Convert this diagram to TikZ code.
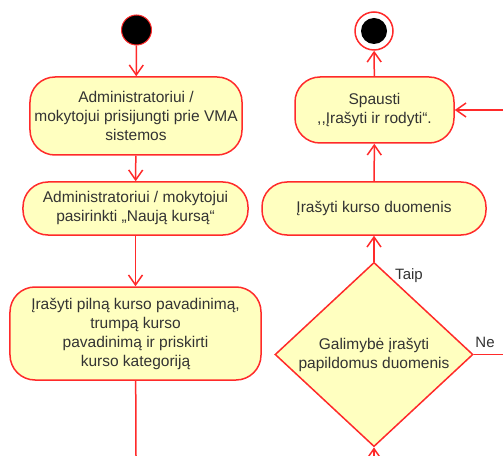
\documentclass[tikz,border=0pt]{standalone}
\usepackage{fontspec}
\setmainfont{Liberation Sans}
\usetikzlibrary{arrows.meta,shapes.geometric}
\definecolor{umlred}{HTML}{FF2A2A}
\definecolor{umlfill}{HTML}{FFFFC0}
\definecolor{umltext}{HTML}{333333}
\begin{document}
\begin{tikzpicture}[x=1bp,y=-1bp,
  every node/.style={font=\fontsize{15.5bp}{19bp}\selectfont, text=umltext},
  action/.style={draw=umlred, fill=umlfill, line width=1.5bp, rounded corners=25bp,
    align=center, inner sep=0pt},
  decision/.style={draw=umlred, fill=umlfill, line width=1.5bp, diamond,
    align=center, inner sep=0pt},
  flow/.style={draw=umlred, line width=1.5bp, -{Straight Barb[length=10bp,width=14bp,line width=1.5bp]}},
  plain/.style={draw=umlred, line width=1.5bp},
  guard/.style={font=\fontsize{15bp}{18bp}\selectfont}]
  \useasboundingbox (0,0) rectangle (503,456);

  % left column: start and first actions
  \node[circle, fill=black, draw=umlred, line width=1bp, minimum size=30bp, inner sep=0pt] (start) at (136.5,30) {};
  \node[action, minimum width=212bp, minimum height=78bp] (login) at (136,116)
    {Administratoriui /\\mokytojui prisijungti prie VMA\\sistemos};
  \node[action, minimum width=225bp, minimum height=53bp] (choose) at (135.5,208.5)
    {Administratoriui / mokytojui\\pasirinkti „Naują kursą“};
  \node[action, minimum width=251bp, minimum height=93bp] (enter) at (135.5,333.5)
    {Įrašyti pilną kurso pavadinimą,\\trumpą kurso\\pavadinimą ir priskirti\\kurso kategoriją};
  \coordinate (leftout) at (136,456);

  % right column: decision, save and finish
  \node[circle, draw=umlred, fill=white, line width=1.5bp, minimum size=38bp, inner sep=0pt] (final) at (374,31) {};
  \node[circle, fill=black, minimum size=26bp, inner sep=0pt] (finaldot) at (374,31) {};
  \node[action, minimum width=159bp, minimum height=66bp] (press) at (374.5,110)
    {Spausti\\,{},Įrašyti ir rodyti“.};
  \node[action, minimum width=224bp, minimum height=53bp] (save) at (374,208.5)
    {Įrašyti kurso duomenis};
  \node[decision, minimum width=198bp, minimum height=157bp] (extra) at (374,354.5)
    {Galimybė įrašyti\\papildomus duomenis};
  \coordinate (rightin) at (503,110);
  \coordinate (noout) at (503,354.5);
  \coordinate (bottomin) at (374,456);

  % connectors
  \draw[flow] (start) -- (login);
  \draw[flow] (login) -- (choose);
  \draw[flow] (choose) -- (enter);
  \draw[plain] (enter) -- (leftout);
  \draw[flow] (press) -- (final);
  \draw[flow] (rightin) -- (press);
  \draw[flow] (save) -- (press);
  \draw[flow] (extra) -- (save);
  \draw[plain] (extra) -- (noout);
  \draw[flow] (bottomin) -- (extra);

  % guards
  \node[guard] (taip) at (409,276) {Taip};
  \node[guard] (ne) at (485,342) {Ne};
\end{tikzpicture}
\end{document}
